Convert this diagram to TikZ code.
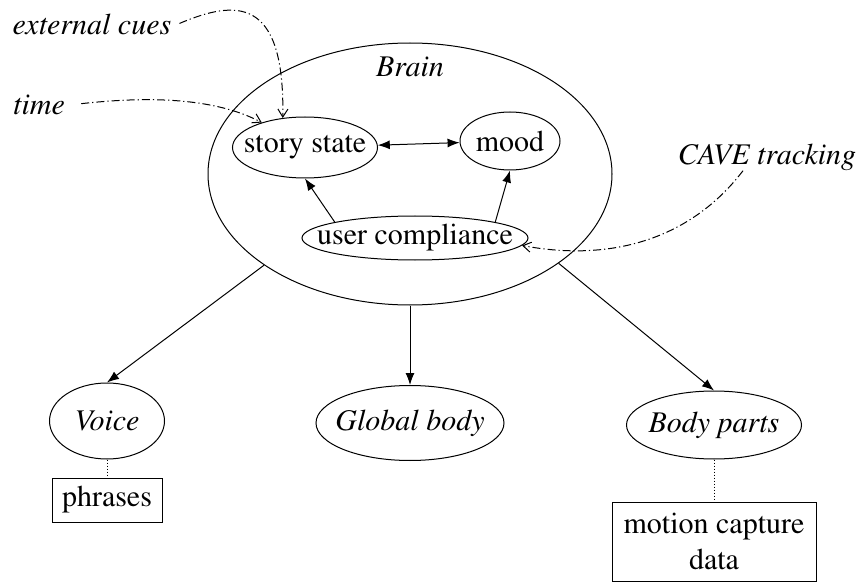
\documentclass[tikz,border=0pt]{standalone}
\usepackage[T1]{fontenc}
\renewcommand{\rmdefault}{ptm}
\usetikzlibrary{shapes.geometric,arrows.meta}
\tikzset{
  ell/.style={draw, ellipse, inner sep=-10pt},
  box/.style={draw, rectangle, inner sep=0pt, align=center},
  cuelbl/.style={font=\fontsize{15}{18}\selectfont\itshape, inner sep=2pt},
  link/.style={-{Latex[length=6pt,width=4.5pt]}},
  twoway/.style={{Latex[length=6pt,width=4.5pt]}-{Latex[length=6pt,width=4.5pt]}},
  cue/.style={-{Straight Barb[length=4pt,width=5pt]}, dash pattern=on 4pt off 1.5pt on 0.6pt off 1.5pt},
  tie/.style={densely dotted}
}
\begin{document}
\begin{tikzpicture}[x=0.5pt,y=-0.5pt,line width=0.5pt,every node/.style={font=\fontsize{15}{18}\selectfont}]
\useasboundingbox (0,0) rectangle (863,583);
% brain and its parts
\node[ell, minimum width=202pt, minimum height=131pt] (brain) at (410,174) {};
\node (brainlbl) at (410,67) {\itshape Brain};
\node[ell, minimum width=72.5pt, minimum height=30.5pt] (story) at (305,147.5) {story state};
\node[ell, minimum width=50pt, minimum height=29pt] (mood) at (510,141) {mood};
\node[ell, minimum width=113pt, minimum height=22pt] (comply) at (415,238) {user compliance};
\draw[twoway] (story) -- (mood);
\draw[link] (comply.north west) -- (story.south);
\draw[link] (comply.north east) -- (mood.south);
% outside cues
\node[cuelbl] (extcues) at (92,25) {external cues};
\node[cuelbl] (time) at (39,105) {time};
\node[cuelbl] (cave) at (767,157) {CAVE tracking};
\draw[cue, shorten <=2pt] (extcues.east) .. controls (235,0) and (285,-5) .. (story.127);
\draw[cue, shorten <=6pt] (time.east) .. controls (150,96) and (215,98) .. (story.150);
\draw[cue] ([xshift=-12pt,yshift=2pt]cave.south) .. controls (690,240) and (610,262) .. (comply.-4);
% output side
\node[ell, minimum width=57.5pt, minimum height=38pt] (voice) at (107,421) {\itshape Voice};
\node[ell, minimum width=94pt, minimum height=37.5pt] (global) at (410,423) {\itshape Global body};
\node[ell, minimum width=87.5pt, minimum height=34pt] (body) at (714,425) {\itshape Body parts};
\draw[link] (brain.212) -- (voice.north);
\draw[link] (brain.south) -- (global.north);
\draw[link] (brain.-31) -- (body.north);
\node[box, minimum width=55pt, minimum height=22pt] (phrases) at (107,500) {phrases};
\node[box, minimum width=102pt, minimum height=39.5pt] (mocap) at (714,541.5) {motion capture\\data};
\draw[tie] (voice.south) -- (phrases.north);
\draw[tie] (body.south) -- (mocap.north);
\end{tikzpicture}
\end{document}
